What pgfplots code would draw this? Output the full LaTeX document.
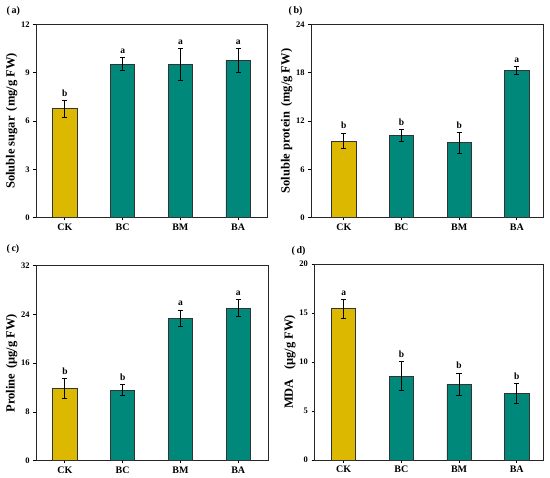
\documentclass[border=0pt]{standalone}
\usepackage{pgfplots}
\pgfplotsset{compat=1.18}
\usepackage{fontspec}
\setmainfont{Liberation Serif}
\definecolor{cky}{HTML}{DDB800}
\definecolor{grn}{HTML}{00897A}
\pgfplotsset{panel/.style={
  scale only axis, anchor=south west,
  axis line style={black!85, line width=0.8pt},
  ymin=0, xtick={0,1,2,3}, xticklabels={CK,BC,BM,BA},
  ytick pos=left, xtick pos=bottom, tick align=outside,
  major tick length=2.8pt,
  ytick style={black, line width=0.8pt},
  xtick style={black, line width=0.8pt},
  tick label style={font=\bfseries\fontsize{8.5}{9}\selectfont},
  xticklabel style={font=\bfseries\fontsize{10}{11}\selectfont},
  /pgf/number format/assume math mode=true,
  ylabel style={font=\bfseries\fontsize{12.5}{13}\selectfont},
  ylabel shift=-3pt,
  clip=false,
},
barplot/.style={ybar, bar width=0.42, bar shift=0pt, draw=black!80, line width=0.7pt, fill=#1,
  error bars/.cd, y dir=both, y explicit,
  error bar style={black, line width=0.8pt},
  error mark options={rotate=90, mark size=2.6pt, black, line width=0.8pt}},
letters/.style={draw=none, mark=none, nodes near coords, point meta=explicit symbolic,
  every node near coord/.append style={font=\bfseries\fontsize{9.5}{10}\selectfont, anchor=south, yshift=0.5pt, text=black}},
}
\begin{document}
\begin{tikzpicture}
\path[use as bounding box] (0pt,0pt) rectangle (550pt,478pt);
% (a)
\begin{axis}[panel, at={(36pt,260.3pt)}, width=231pt, height=193.4pt,
  xmin=-0.5, xmax=3.5, ymax=12, ytick={0,3,6,9,12},
  ylabel={Soluble sugar\ \,(mg/g FW)}]
\addplot[barplot=cky] table[x=x,y=y,y error=e] {
x y e
0 6.77 0.52
};
\addplot[barplot=grn] table[x=x,y=y,y error=e] {
x y e
1 9.52 0.40
2 9.50 1.00
3 9.75 0.75
};
\addplot[letters] table[x=x,y=y,meta=l] {
x y l
0 7.29 b
1 9.92 a
2 10.50 a
3 10.50 a
};
\end{axis}
\node[anchor=west, font=\bfseries\fontsize{10}{11}\selectfont] at (3pt,467pt) {(\,a)};
% (b)
\begin{axis}[panel, at={(311pt,260.3pt)}, width=232.3pt, height=193.4pt,
  xmin=-0.57, xmax=3.46, ymax=24, ytick={0,6,12,18,24},
  ylabel={Soluble protein\ \,(mg/g FW)}]
\addplot[barplot=cky] table[x=x,y=y,y error=e] {
x y e
0 9.52 0.98
};
\addplot[barplot=grn] table[x=x,y=y,y error=e] {
x y e
1 10.22 0.76
2 9.31 1.30
3 18.25 0.50
};
\addplot[letters] table[x=x,y=y,meta=l] {
x y l
0 10.50 b
1 10.98 b
2 10.61 b
3 18.75 a
};
\end{axis}
\node[anchor=west, font=\bfseries\fontsize{10}{11}\selectfont] at (285pt,467pt) {(\,b)};
% (c)
\begin{axis}[panel, at={(36pt,17.3pt)}, width=232.3pt, height=195pt,
  xmin=-0.5, xmax=3.52, ymax=32, ytick={0,8,16,24,32},
  ylabel={Proline\ \,(μg/g FW)}]
\addplot[barplot=cky] table[x=x,y=y,y error=e] {
x y e
0 11.87 1.60
};
\addplot[barplot=grn] table[x=x,y=y,y error=e] {
x y e
1 11.60 0.87
2 23.36 1.37
3 25.00 1.40
};
\addplot[letters] table[x=x,y=y,meta=l] {
x y l
0 13.47 b
1 12.47 b
2 24.73 a
3 26.40 a
};
\end{axis}
\node[anchor=west, font=\bfseries\fontsize{10}{11}\selectfont] at (3pt,229pt) {(\,c)};
% (d)
\begin{axis}[panel, at={(314.3pt,18pt)}, width=229pt, height=196pt,
  xmin=-0.51, xmax=3.46, ymax=20, ytick={0,5,10,15,20},
  ylabel={MDA\ \ \ (μg/g FW)}]
\addplot[barplot=cky] table[x=x,y=y,y error=e] {
x y e
0 15.44 0.96
};
\addplot[barplot=grn] table[x=x,y=y,y error=e] {
x y e
1 8.57 1.50
2 7.72 1.16
3 6.80 1.02
};
\addplot[letters] table[x=x,y=y,meta=l] {
x y l
0 16.40 a
1 10.07 b
2 8.88 b
3 7.82 b
};
\end{axis}
\node[anchor=west, font=\bfseries\fontsize{10}{11}\selectfont] at (288pt,227pt) {(\,d)};
\end{tikzpicture}
\end{document}
